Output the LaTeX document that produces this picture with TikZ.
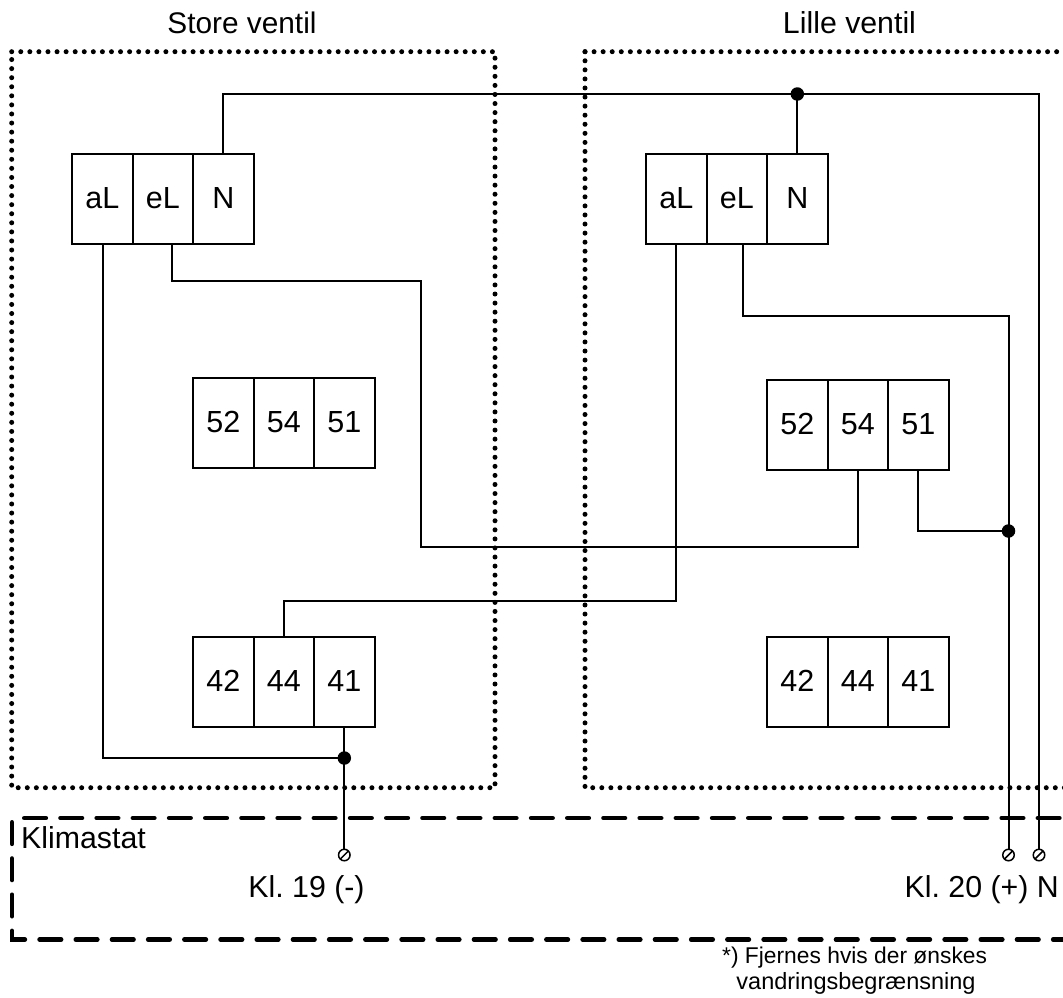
\documentclass[tikz,border=0pt]{standalone}
\usepackage{fontspec}
\setmainfont{Liberation Sans}
\usetikzlibrary{calc}
\frenchspacing
\tikzset{
  x=1pt,y=-1pt,
  wire/.style={line width=2pt,line join=miter},
  cell/.style={draw,line width=2pt,minimum width=60.5pt,minimum height=90.5pt,inner sep=0pt,font=\fontsize{30.5}{30.5}\selectfont,text height=22pt,text depth=4pt,anchor=center},
  label/.style={font=\fontsize{30.3}{32}\selectfont,inner sep=0pt,anchor=base},
  small/.style={font=\fontsize{23.5}{25}\selectfont,inner sep=0pt,anchor=base},
  dotbox/.style={line width=5pt,line cap=round,dash pattern=on 0pt off 9.07pt},
  dashbox/.style={line width=4.6pt,line cap=round,dash pattern=on 21.5pt off 14.7pt},
  junction/.style={circle,fill=black,draw=none,minimum size=13.5pt,inner sep=0pt},
  terminal/.style={circle,draw,line width=1.5pt,minimum size=11.5pt,inner sep=0pt,fill=white,
    path picture={\draw[line width=1.5pt] (path picture bounding box.south west)--(path picture bounding box.north east);}},
}
\begin{document}
\begin{tikzpicture}
\useasboundingbox (0,0) rectangle (1063,997);
\begin{scope}
\clip (0,0) rectangle (1063,997);
\draw[dotbox] (11.7,51.7) -- (495,51.7) -- (495,787.7) -- (11.7,787.7) -- cycle;
\draw[dotbox] (585,51.7) -- (1100,51.7);
\draw[dotbox] (585,51.7) -- (585,787.7) -- (1100,787.7);
\draw[dashbox] (24.3,818) -- (1100,818);
\draw[dashbox] (12,822.3) -- (12,939.5) -- (1100,939.5);

% terminal blocks
\foreach \n/\t/\cx/\cy in {A/aL/102.3/199, B/eL/162.8/199, C/N/223.3/199,
  D/52/223.3/423, E/54/283.8/423, F/51/344.3/423,
  G/42/223.3/682, H/44/283.8/682, I/41/344.3/682,
  J/aL/676.3/199, K/eL/736.8/199, L/N/797.3/199,
  M/52/797.3/425, O/54/857.8/425, P/51/918.3/425,
  Q/42/797.3/682, R/44/857.8/682, S/41/918.3/682}
  \node[cell] (\n) at (\cx,\cy) {\t};

\coordinate (topR) at (1039,94);
\coordinate (topL) at (223.3,94);
\node[junction] (j1) at (797.3,94) {};
\node[junction] (j2) at (344.3,758) {};
\node[junction] (j3) at (1008.5,531) {};
\node[terminal] (t1) at (344.3,855) {};
\node[terminal] (t2) at (1008.5,855) {};
\node[terminal] (t3) at (1039,855) {};

% wires
\draw[wire] (C.north) -- (topL) -- (j1.center) -- (topR) -- (t3.north);
\draw[wire] (j1.center) -- (L.north);
\draw[wire] ([xshift=1pt]A.south) |- (j2.center);
\draw[wire] (I.south) -- (t1.north);
\draw[wire] ([xshift=9pt]B.south) |- (421,281) |- ([xshift=0.5pt]O.south |- 0,547) -- ([xshift=0.5pt]O.south);
\draw[wire] (J.south) |- (284,601) -- (284,637);
\draw[wire] ([xshift=6pt]K.south) |- (1008.5,316) -- (t2.north);
\draw[wire] (P.south) |- (j3.center);

% labels
\node[label,font=\fontsize{29.8}{32}\selectfont] (s) at (242,33) {Store ventil};
\node[label] (l) at (849.5,33) {Lille ventil};
\node[label,anchor=base west] (k) at (21,848) {Klimastat};
\node[label] (k19) at (306.5,897) {Kl. 19 (-)};
\node[label,anchor=base east] (k20) at (1059,897) {Kl. 20 (+) N};
\node[small,font=\fontsize{22.8}{25}\selectfont,anchor=base west] (n1) at (722,963) {*) Fjernes hvis der ønskes};
\node[small] (n2) at (856,989) {vandringsbegrænsning};
\end{scope}
\end{tikzpicture}
\end{document}
